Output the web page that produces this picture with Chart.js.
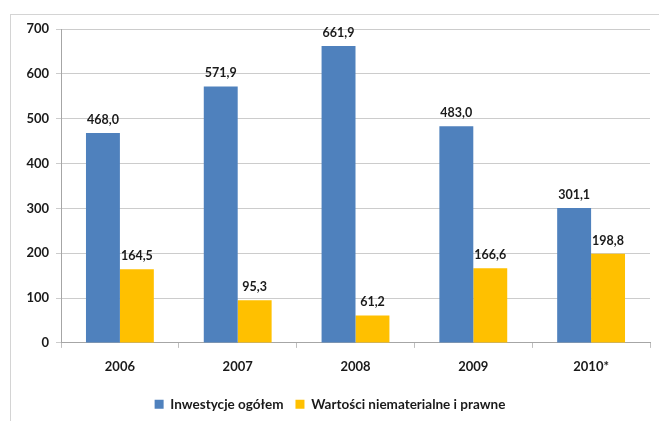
<!DOCTYPE html>
<html lang="pl">
<head>
<meta charset="UTF-8">
<title>Inwestycje</title>
<style>
  html, body { margin: 0; padding: 0; background: #fff; }
  .frame {
    position: absolute; left: 10px; top: 14px; width: 660px; height: 420px;
    border-left: 1px solid #d4d4d4; border-top: 1px solid #d4d4d4;
  }
  .wrap { position: absolute; left: 0; top: 0; width: 659px; height: 421px; }
</style>
</head>
<body>
<div class="frame"></div>
<div class="wrap"><canvas id="chart"></canvas></div>

<script src="https://cdn.jsdelivr.net/npm/chart.js"></script>
<script>
// data
const years = ['2006', '2007', '2008', '2009', '2010*'];
const inwestycje = [468.0, 571.9, 661.9, 483.0, 301.1];
const niematerialne = [164.5, 95.3, 61.2, 166.6, 198.8];
const yTicks = [0, 100, 200, 300, 400, 500, 600, 700];

const FONT = 'Lato, "Open Sans", sans-serif';

// value labels above the bars, polish decimal comma
const barLabels = {
  id: 'barLabels',
  afterDatasetsDraw(chart) {
    const ctx = chart.ctx;
    ctx.save();
    ctx.font = 'bold 12.5px ' + FONT;
    ctx.fillStyle = '#1a1a1a';
    ctx.textAlign = 'center';
    ctx.textBaseline = 'bottom';
    chart.data.datasets.forEach((ds, i) => {
      chart.getDatasetMeta(i).data.forEach((bar, j) => {
        ctx.fillText(ds.data[j].toFixed(1).replace('.', ','), bar.x, bar.y - 7);
      });
    });
    ctx.restore();
  }
};

new Chart(document.getElementById('chart'), {
  type: 'bar',
  data: {
    labels: years,
    datasets: [
      { label: 'Inwestycje ogółem', data: inwestycje, backgroundColor: '#4f81bd' },
      { label: 'Wartości niematerialne i prawne', data: niematerialne, backgroundColor: '#ffc000' }
    ]
  },
  options: {
    responsive: true,
    maintainAspectRatio: false,
    animation: false,
    datasets: { bar: { barPercentage: 1, categoryPercentage: 0.576 } },
    layout: { padding: { left: 10, top: 29, right: 9, bottom: 0 } },
    scales: {
      x: {
        grid: { display: true, drawOnChartArea: false, color: '#bfbfbf', tickLength: 5 },
        border: { color: '#a6a6a6' },
        ticks: { color: '#1a1a1a', font: { family: FONT, size: 13, weight: 'bold' }, padding: 11 }
      },
      y: {
        min: 0, max: 700,
        afterBuildTicks: s => { s.ticks = yTicks.map(v => ({ value: v })); },
        afterFit: s => { s.width = 51; },
        grid: { color: '#cccccc', tickLength: 5 },
        border: { color: '#a6a6a6' },
        ticks: { color: '#1a1a1a', font: { family: FONT, size: 13, weight: 'bold' }, padding: 7 }
      }
    },
    plugins: {
      legend: {
        position: 'bottom',
        labels: {
          boxWidth: 9, boxHeight: 9, padding: 12,
          color: '#1a1a1a', font: { family: FONT, size: 13.5, weight: 'bold' }
        }
      },
      tooltip: { enabled: false }
    }
  },
  plugins: [barLabels]
});
</script>
</body>
</html>
